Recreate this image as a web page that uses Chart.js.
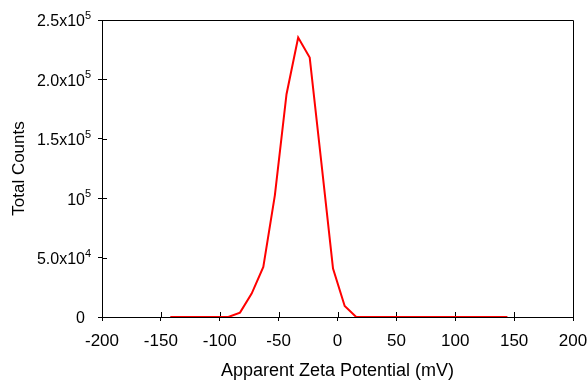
<!DOCTYPE html>
<html>
<head>
<meta charset="utf-8">
<script src="https://cdn.jsdelivr.net/npm/chart.js@4.4.0/dist/chart.umd.min.js"></script>
<style>
  html, body { margin: 0; padding: 0; background: #fff; }
  #wrap { width: 587px; height: 383px; }
</style>
</head>
<body>
<div id="wrap"><canvas id="chart"></canvas></div>
<script>
// zeta potential bins (mV) and counts
const zetaMv = [
  -142.0, -132.1, -122.3, -112.4, -102.5, -92.7, -82.8, -72.9, -63.0, -53.2,
  -43.3, -33.4, -23.6, -13.7, -3.8, 6.1, 15.9, 25.8, 35.7, 45.6,
  55.4, 65.3, 75.2, 85.0, 94.9, 104.8, 114.7, 124.5, 134.4, 144.3
];
const totalCounts = [
  0, 0, 0, 0, 0, 0, 3700, 19700, 42100, 102400,
  187500, 235200, 218400, 130000, 40700, 9300, 0, 0, 0, 0,
  0, 0, 0, 0, 0, 0, 0, 0, 0, 0
];
const xTicks = [-200, -150, -100, -50, 0, 50, 100, 150, 200];
const yTicks = [0, 50000, 100000, 150000, 200000, 250000];
const yTickBase = ['0', '5.0x10', '10', '1.5x10', '2.0x10', '2.5x10'];
const yTickExp = ['', '4', '5', '5', '5', '5'];

const FONT = '"Liberation Sans", Arial, sans-serif';
Chart.defaults.font.family = FONT;
Chart.defaults.font.size = 16;
Chart.defaults.color = '#000';

// box on top/right, ticks that cross the axes, and y labels with superscripts
const frame = {
  id: 'frame',
  beforeDatasetsDraw(chart) {
    const { ctx, chartArea: a, scales: { x, y } } = chart;
    ctx.save();
    ctx.strokeStyle = '#000';
    ctx.lineWidth = 1;
    ctx.beginPath();
    ctx.moveTo(a.left, Math.round(a.top) + 0.5);
    ctx.lineTo(Math.round(a.right) + 0.5, Math.round(a.top) + 0.5);
    ctx.lineTo(Math.round(a.right) + 0.5, a.bottom);
    xTicks.forEach(v => {
      const px = Math.round(x.getPixelForValue(v)) + 0.5;
      ctx.moveTo(px, a.bottom);
      ctx.lineTo(px, a.bottom - 5);
    });
    yTicks.forEach(v => {
      const py = Math.round(y.getPixelForValue(v)) + 0.5;
      ctx.moveTo(a.left, py);
      ctx.lineTo(a.left + 5, py);
    });
    ctx.stroke();
    ctx.restore();
  },
  afterDraw(chart) {
    const { ctx, chartArea: a, scales: { y } } = chart;
    ctx.save();
    ctx.fillStyle = '#000';
    ctx.textBaseline = 'middle';
    yTicks.forEach((v, i) => {
      const py = y.getPixelForValue(v);
      const xr = a.left - 17;
      ctx.font = '16px ' + FONT;
      ctx.textAlign = 'right';
      ctx.fillText(yTickBase[i], xr, py + 2);
      if (yTickExp[i]) {
        ctx.font = '11px ' + FONT;
        ctx.textAlign = 'left';
        ctx.fillText(yTickExp[i], xr, py - 4);
      }
    });
    ctx.restore();
  }
};

new Chart(document.getElementById('chart'), {
  type: 'line',
  data: {
    datasets: [{
      data: zetaMv.map((v, i) => ({ x: v, y: totalCounts[i] })),
      borderColor: '#ff0000',
      borderWidth: 2,
      pointRadius: 0,
      tension: 0,
      fill: false,
    }],
  },
  options: {
    responsive: true,
    maintainAspectRatio: false,
    animation: false,
    layout: { padding: { left: 0, right: 14, top: 20, bottom: 0 } },
    plugins: { legend: { display: false }, tooltip: { enabled: false } },
    scales: {
      x: {
        type: 'linear',
        min: -200,
        max: 200,
        afterFit: s => {
          s.height = 66;
          s.paddingLeft = 0;
          s.paddingRight = 0;
        },
        afterBuildTicks: s => { s.ticks = xTicks.map(v => ({ value: v })); },
        ticks: { padding: 10, maxRotation: 0, font: { size: 17 } },
        grid: { drawOnChartArea: false, tickLength: 4, color: '#000' },
        border: { color: '#000', width: 1 },
        title: {
          display: true,
          text: 'Apparent Zeta Potential (mV)',
          font: { size: 18 },
          padding: { top: 0, bottom: 1 },
        },
      },
      y: {
        min: 0,
        max: 250000,
        afterFit: s => {
          s.width = 102;
          s.paddingTop = 0;
          s.paddingBottom = 0;
        },
        afterBuildTicks: s => { s.ticks = yTicks.map(v => ({ value: v })); },
        ticks: { color: 'rgba(0,0,0,0)' },
        grid: { drawOnChartArea: false, tickLength: 4, color: '#000' },
        border: { color: '#000', width: 1 },
        title: {
          display: true,
          text: 'Total Counts',
          font: { size: 17 },
          padding: { top: 9, bottom: 0 },
        },
      },
    },
  },
  plugins: [frame],
});
</script>
</body>
</html>
